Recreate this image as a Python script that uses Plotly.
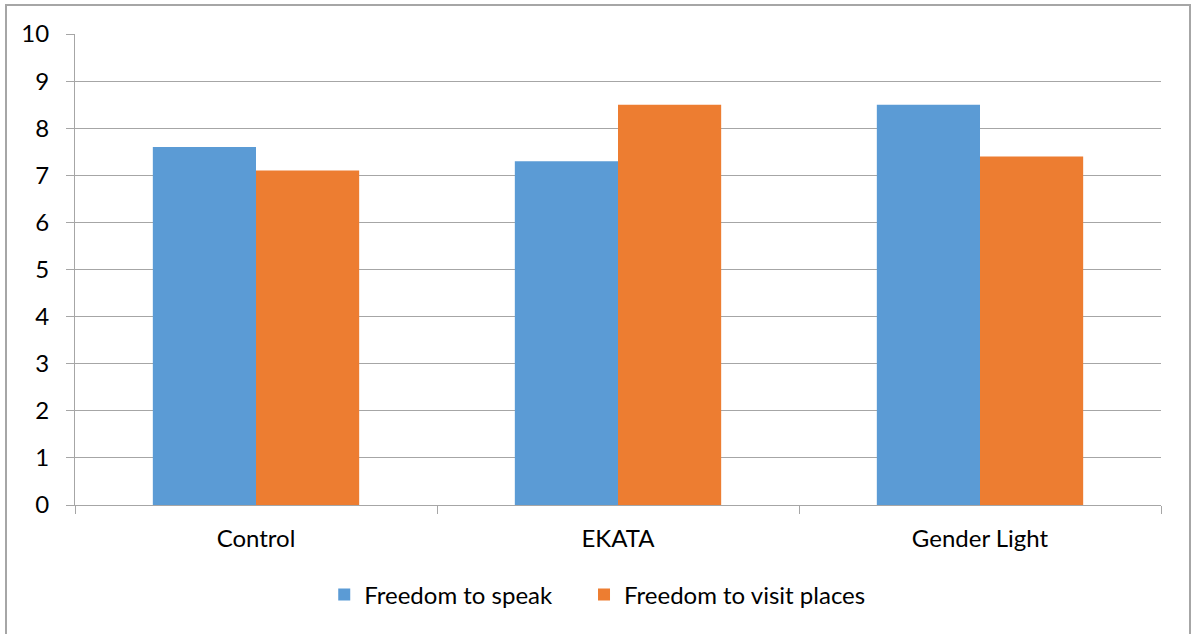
import plotly.graph_objects as go

categories = ["Control", "EKATA", "Gender Light"]
freedom_to_speak = [7.6, 7.3, 8.5]
freedom_to_visit = [7.1, 8.5, 7.4]
y_ticks = [0, 1, 2, 3, 4, 5, 6, 7, 8, 9, 10]

FONT = "Lato"
GRID = "#a6a6a6"

fig = go.Figure()
fig.add_trace(go.Bar(name="Freedom to speak", x=categories, y=freedom_to_speak,
                     marker=dict(color="#5B9BD5", line=dict(width=0)), legend="legend"))
fig.add_trace(go.Bar(name="Freedom to visit places", x=categories, y=freedom_to_visit,
                     marker=dict(color="#ED7D31", line=dict(width=0)), legend="legend2"))

legend_style = dict(orientation="h", xanchor="left", y=-0.191, yanchor="middle",
                    font=dict(family=FONT, size=24), itemwidth=30,
                    bgcolor="rgba(0,0,0,0)")

fig.update_layout(
    width=1195, height=634,
    margin=dict(l=75, r=34, t=34, b=129),
    paper_bgcolor="white", plot_bgcolor="white",
    barmode="group", bargap=0.43, bargroupgap=0,
    font=dict(family=FONT, size=24, color="#000000"),
    showlegend=True,
    legend=dict(x=0.2295, **legend_style),
    legend2=dict(x=0.4687, **legend_style),
)
fig.update_xaxes(
    showline=True, linecolor=GRID, linewidth=1,
    ticks="outside", ticklen=8, tickcolor=GRID, tickson="boundaries",
    ticklabelstandoff=12, showgrid=False,
)
fig.update_yaxes(
    range=[0, 10], tickvals=y_ticks,
    showline=True, linecolor=GRID, linewidth=1,
    showgrid=True, gridcolor=GRID, gridwidth=1,
    ticks="outside", ticklen=8, tickcolor=GRID,
    ticklabelstandoff=12, zeroline=False,
)
# chart area border
fig.add_shape(type="rect", xref="paper", yref="paper",
              x0=-69 / 1086, x1=1115 / 1086, y0=-140 / 471, y1=500 / 471,
              line=dict(color="#a6a6a6", width=2), fillcolor="rgba(0,0,0,0)", layer="below")

fig.write_html("out.html")
